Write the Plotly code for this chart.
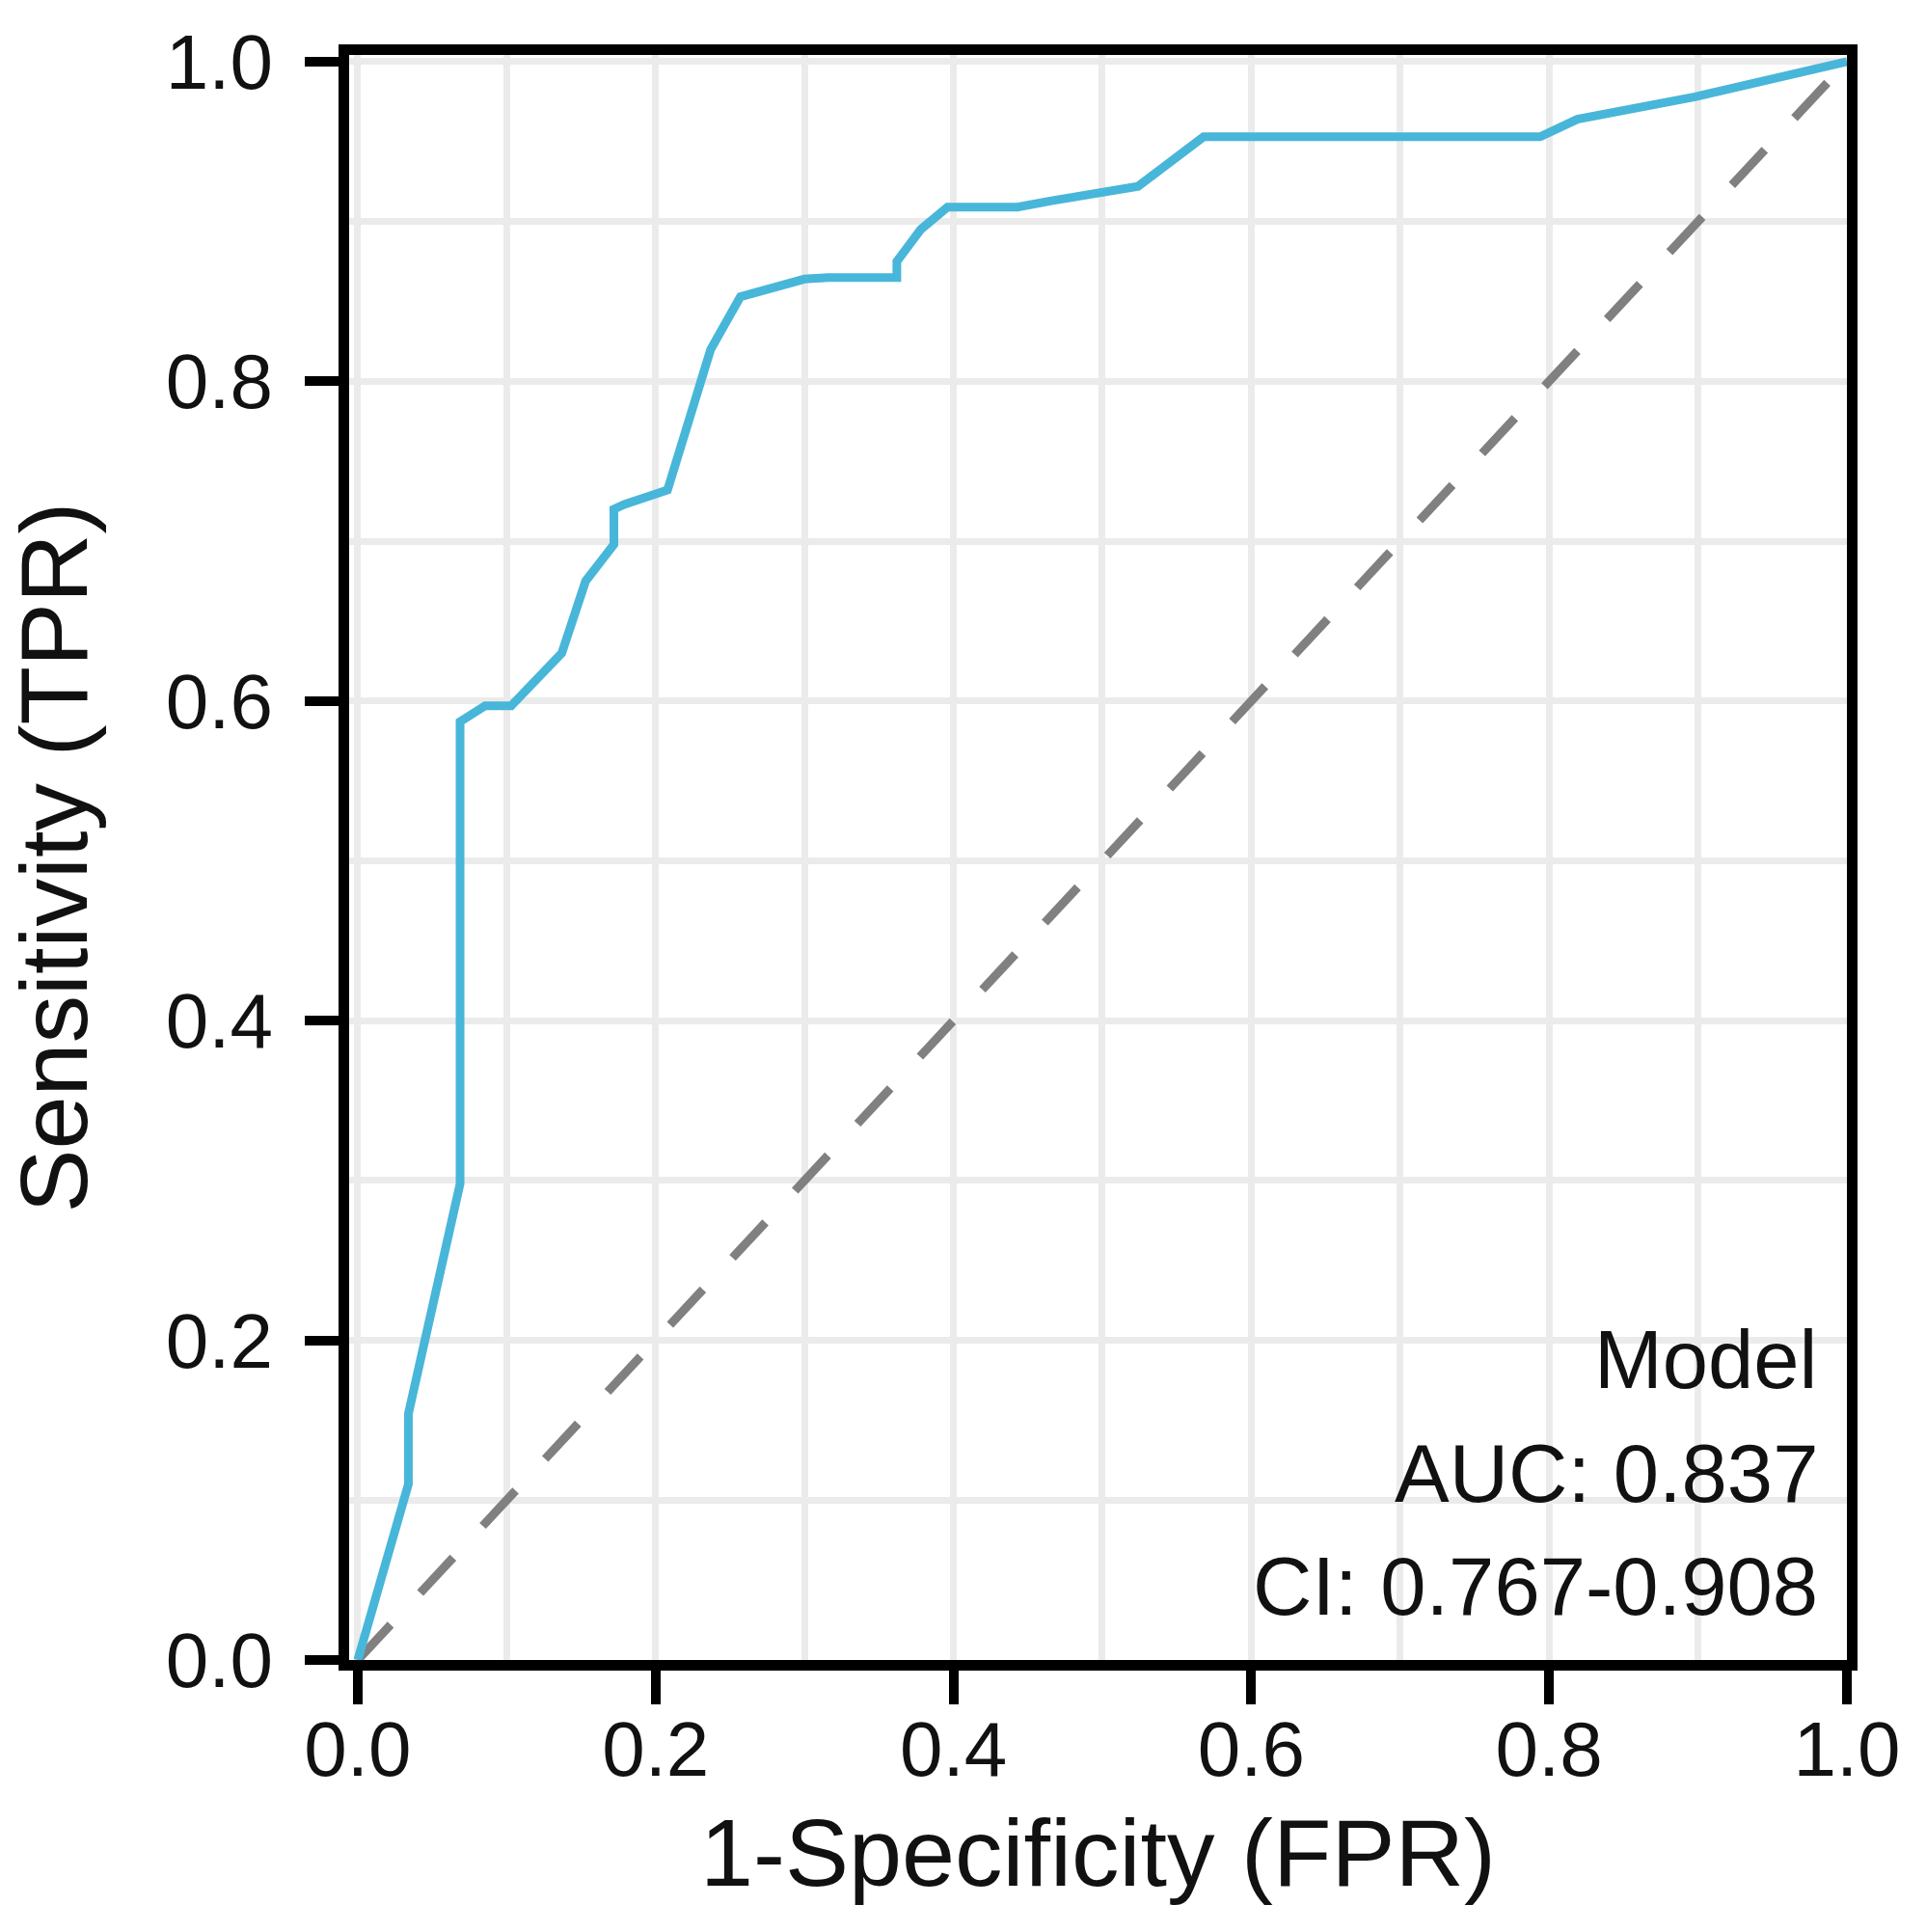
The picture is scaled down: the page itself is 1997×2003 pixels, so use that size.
import plotly.graph_objects as go

# Curva ROC (FPR, TPR)
fpr = [0.0, 0.034, 0.034, 0.0687, 0.0687, 0.0855, 0.103, 0.137, 0.153, 0.172,
       0.172, 0.179, 0.208, 0.222, 0.237, 0.257, 0.300, 0.316, 0.362, 0.362,
       0.378, 0.396, 0.443, 0.466, 0.517, 0.524, 0.568, 0.794, 0.819, 0.898, 1.0]
tpr = [0.0, 0.110, 0.154, 0.298, 0.587, 0.597, 0.597, 0.630, 0.675, 0.698,
       0.720, 0.723, 0.732, 0.773, 0.820, 0.853, 0.864, 0.865, 0.865, 0.875,
       0.895, 0.909, 0.909, 0.913, 0.920, 0.922, 0.953, 0.953, 0.964, 0.978, 1.0]

# Linha de referência (classificador aleatório)
ref_x = [0.0, 1.0]
ref_y = [0.0, 1.0]

model_name = "Model"
auc_value = 0.837
ci_low, ci_high = 0.767, 0.908

tick_vals = [0.0, 0.2, 0.4, 0.6, 0.8, 1.0]
tick_text = ["0.0", "0.2", "0.4", "0.6", "0.8", "1.0"]

FONT = "Liberation Sans, Arial, sans-serif"
TXT = "#111111"

fig = go.Figure()

fig.add_trace(go.Scatter(
    x=ref_x, y=ref_y,
    mode="lines",
    line=dict(color="#808080", width=9, dash="50px,45px"),
    showlegend=False,
    hoverinfo="skip",
))

fig.add_trace(go.Scatter(
    x=fpr, y=tpr,
    mode="lines",
    line=dict(color="#48B6D9", width=9),
    name=model_name,
    showlegend=False,
))

# Legenda em texto no canto inferior direito
labels = [
    model_name,
    f"AUC: {auc_value:.3f}",
    f"CI: {ci_low:.3f}-{ci_high:.3f}",
]
label_y = [0.188, 0.117, 0.046]
for txt, yy in zip(labels, label_y):
    fig.add_annotation(
        x=0.982, y=yy, xref="x", yref="y",
        xanchor="right", yanchor="middle",
        showarrow=False,
        text=txt,
        font=dict(family=FONT, size=85, color=TXT),
    )

axis_common = dict(
    tickvals=tick_vals,
    ticktext=tick_text,
    ticks="outside",
    ticklen=35,
    tickwidth=10,
    tickcolor="black",
    tickfont=dict(family=FONT, size=80, color=TXT),
    showline=True,
    linecolor="black",
    linewidth=11,
    mirror=True,
    showgrid=True,
    gridcolor="#EBEBEB",
    gridwidth=7,
    zeroline=False,
    minor=dict(dtick=0.1, showgrid=True, gridcolor="#EBEBEB", gridwidth=7),
)

fig.update_xaxes(
    range=[-0.0058, 1.0],
    ticklabelstandoff=-22,
    title=dict(text="1-Specificity (FPR)", standoff=33,
               font=dict(family=FONT, size=99, color=TXT)),
    **axis_common,
)
fig.update_yaxes(
    range=[0.0, 1.0042],
    ticklabelstandoff=17,
    title=dict(text="Sensitivity (TPR)", standoff=72,
               font=dict(family=FONT, size=99, color=TXT)),
    **axis_common,
)

fig.update_layout(
    width=1997,
    height=2003,
    margin=dict(l=362, r=82, t=57, b=282),
    paper_bgcolor="white",
    plot_bgcolor="white",
    font=dict(family=FONT, color=TXT),
)

fig.write_html(
    "out.html",
    config={"displayModeBar": False},
    post_script="document.body.style.margin='0';",
)
